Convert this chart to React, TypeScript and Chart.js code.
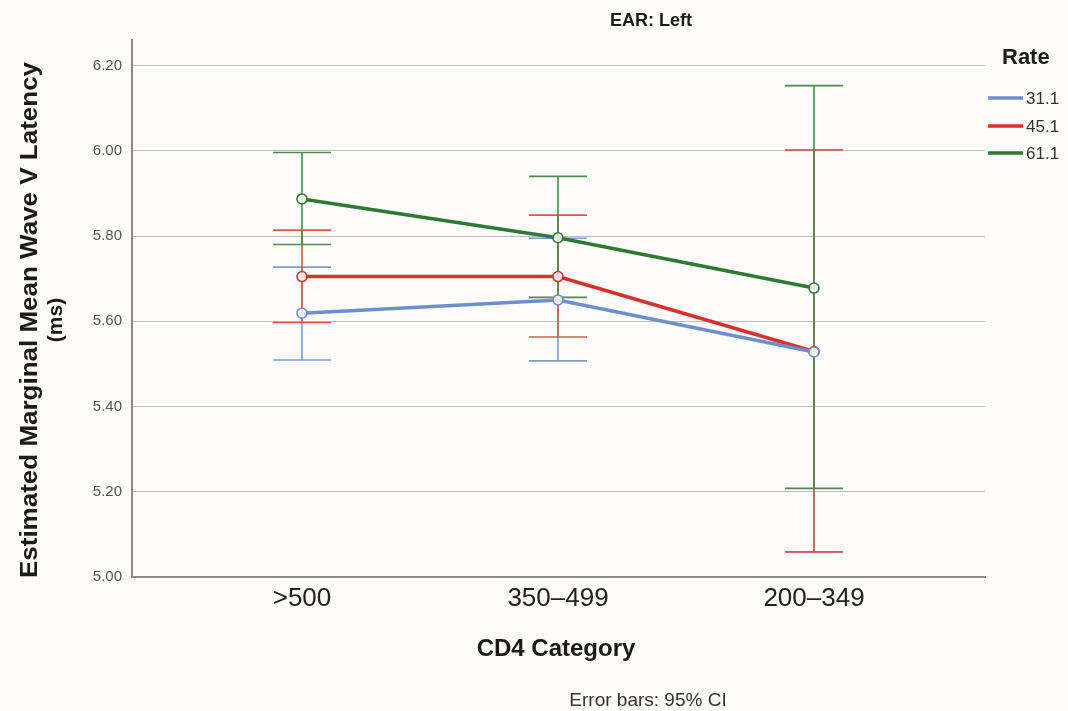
import React, { useEffect, useRef } from "react";
import { Chart, registerables } from "chart.js";

Chart.register(...registerables);

const categories = [">500", "350\u2013499", "200\u2013349"];
const seriesNames = ["31.1", "45.1", "61.1"];
const meanRate31 = [5.619, 5.65, 5.528];
const lowRate31 = [5.509, 5.507, 5.059];
const highRate31 = [5.727, 5.795, 6.002];
const meanRate45 = [5.705, 5.705, 5.529];
const lowRate45 = [5.597, 5.563, 5.059];
const highRate45 = [5.814, 5.849, 6.002];
const meanRate61 = [5.887, 5.796, 5.678];
const lowRate61 = [5.78, 5.656, 5.208];
const highRate61 = [5.996, 5.94, 6.153];
const yTickValues = [5.0, 5.2, 5.4, 5.6, 5.8, 6.0, 6.2];

const lineColors = ["#6c8fcf", "#d8302a", "#2e7a35"];
const barColors = ["#7f9ccf", "#e0564e", "#4f8a4f"];

const means = [meanRate31, meanRate45, meanRate61];
const lows = [lowRate31, lowRate45, lowRate61];
const highs = [highRate31, highRate45, highRate61];

const FONT = "'Liberation Sans', Arial, sans-serif";

export default function App() {
  const ref = useRef<HTMLCanvasElement>(null);
  useEffect(() => {
    const canvas = ref.current;
    if (!canvas) return;

    const bgPlugin = {
      id: "bg",
      beforeDraw(chart: any) {
        const ctx = chart.ctx;
        ctx.save();
        ctx.fillStyle = "#fdfcfa";
        ctx.fillRect(0, 0, chart.width, chart.height);
        ctx.restore();
      },
    };

    const errorBarPlugin = {
      id: "errbars",
      beforeDatasetsDraw(chart: any) {
        const ctx = chart.ctx;
        const xs = chart.scales.x;
        const ys = chart.scales.y;
        ctx.save();
        ctx.lineWidth = 1.6;
        for (let s = 0; s < means.length; s++) {
          ctx.strokeStyle = barColors[s];
          for (let i = 0; i < categories.length; i++) {
            const x = xs.getPixelForValue(i);
            const yl = ys.getPixelForValue(lows[s][i]);
            const yh = ys.getPixelForValue(highs[s][i]);
            ctx.beginPath();
            ctx.moveTo(x, yl);
            ctx.lineTo(x, yh);
            ctx.moveTo(x - 29, yl);
            ctx.lineTo(x + 29, yl);
            ctx.moveTo(x - 29, yh);
            ctx.lineTo(x + 29, yh);
            ctx.stroke();
          }
        }
        ctx.restore();
      },
    };

    const textPlugin = {
      id: "texts",
      afterDraw(chart: any) {
        const ctx = chart.ctx;
        ctx.save();
        ctx.fillStyle = "#1a1a1a";
        ctx.textAlign = "center";
        ctx.textBaseline = "middle";
        ctx.font = `bold 18px ${FONT}`;
        ctx.fillText("EAR: Left", 651, 21);

        ctx.font = `bold 24px ${FONT}`;
        ctx.fillText("CD4 Category", 556, 649);

        ctx.font = `19px ${FONT}`;
        ctx.fillStyle = "#333";
        ctx.fillText("Error bars: 95% CI", 648, 701);

        ctx.save();
        ctx.translate(31, 320);
        ctx.rotate(-Math.PI / 2);
        ctx.fillStyle = "#1a1a1a";
        ctx.font = `bold 23px ${FONT}`;
        ctx.save();
        ctx.scale(1.13, 1);
        ctx.fillText("Estimated Marginal Mean Wave V Latency", 0, 0);
        ctx.restore();
        ctx.font = `bold 21px ${FONT}`;
        ctx.fillText("(ms)", 0, 25);
        ctx.restore();

        // legend
        ctx.fillStyle = "#1a1a1a";
        ctx.font = `bold 22px ${FONT}`;
        ctx.textAlign = "left";
        ctx.fillText("Rate", 1002, 58);
        const ly = [98, 126, 153];
        ctx.font = `17px ${FONT}`;
        for (let s = 0; s < seriesNames.length; s++) {
          ctx.strokeStyle = lineColors[s];
          ctx.lineWidth = 3.5;
          ctx.beginPath();
          ctx.moveTo(988, ly[s]);
          ctx.lineTo(1023, ly[s]);
          ctx.stroke();
          ctx.fillStyle = "#333";
          ctx.fillText(seriesNames[s], 1026, ly[s] + 1);
        }
        ctx.restore();
      },
    };

    const chart = new Chart(canvas, {
      type: "line",
      data: {
        datasets: means.map((m, s) => ({
          label: seriesNames[s],
          data: m.map((v, i) => ({ x: i, y: v })),
          borderColor: lineColors[s],
          borderWidth: 3.5,
          pointRadius: 5,
          pointBorderWidth: 1.6,
          pointBackgroundColor: "rgba(253,252,250,0.85)",
          pointBorderColor: lineColors[s],
          fill: false,
          tension: 0,
        })),
      },
      options: {
        animation: false,
        responsive: false,
        maintainAspectRatio: false,
        layout: { padding: { top: 40, right: 83, left: 0, bottom: 0 } },
        plugins: {
          legend: { display: false },
          tooltip: { enabled: false },
          title: { display: false },
        },
        scales: {
          x: {
            type: "linear",
            min: -0.664,
            max: 2.668,
            afterBuildTicks(scale: any) {
              scale.ticks = categories.map((_, i) => ({ value: i }));
            },
            afterFit(scale: any) {
              scale.height = 134;
            },
            grid: { display: false, drawTicks: false },
            border: { display: true, color: "#8a8a8a", width: 2 },
            ticks: {
              autoSkip: false,
              maxRotation: 0,
              padding: 6,
              color: "#222",
              font: { family: FONT, size: 26 },
              callback: (v: any) => categories[Math.round(Number(v))] ?? "",
            },
          },
          y: {
            type: "linear",
            min: 5.0,
            max: 6.26,
            afterBuildTicks(scale: any) {
              scale.ticks = yTickValues.map((v) => ({ value: v }));
            },
            afterFit(scale: any) {
              scale.width = 132;
            },
            grid: { color: "#bdbdbd", lineWidth: 1, drawTicks: false },
            border: { display: true, color: "#8a8a8a", width: 2 },
            ticks: {
              padding: 10,
              color: "#555",
              font: { family: FONT, size: 15 },
              callback: (v: any) => Number(v).toFixed(2),
            },
          },
        },
      },
      plugins: [bgPlugin, errorBarPlugin, textPlugin],
    } as any);
    return () => chart.destroy();
  }, []);

  return (
    <div style={{ position: "absolute", left: 0, top: 0, width: 1068, height: 711 }}>
      <canvas ref={ref} width={1068} height={711} style={{ width: 1068, height: 711, display: "block" }} />
    </div>
  );
}
